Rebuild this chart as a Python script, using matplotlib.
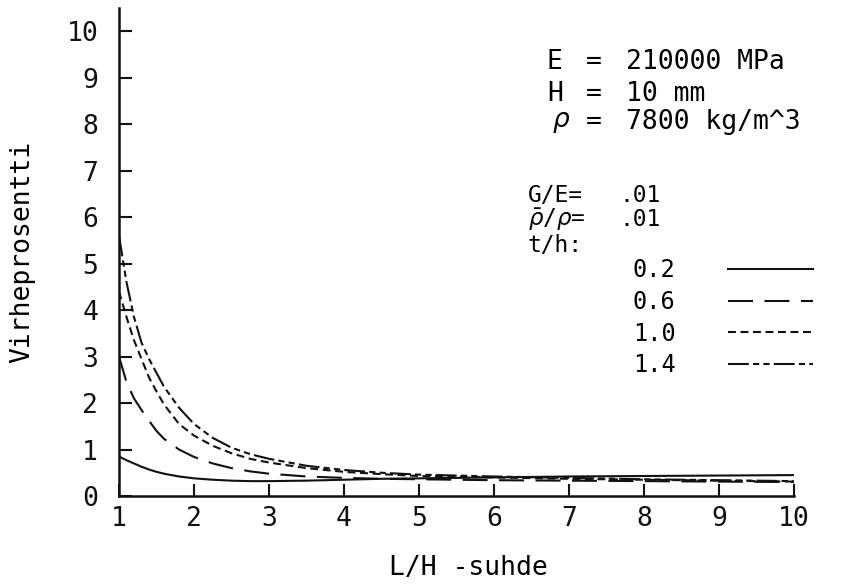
import matplotlib
matplotlib.use('Agg')
import matplotlib.pyplot as plt

# L/H ratio sample points
ratio = [1.0, 1.1, 1.2, 1.3, 1.4, 1.5, 1.6, 1.8, 2.0, 2.25, 2.5, 2.75, 3.0,
         3.5, 4.0, 4.5, 5.0, 6.0, 7.0, 8.0, 9.0, 10.0]

# error percentage for each t/h value
err_02 = [0.85, 0.77, 0.70, 0.63, 0.57, 0.52, 0.48, 0.42, 0.38, 0.35, 0.33, 0.32, 0.32,
          0.33, 0.35, 0.37, 0.38, 0.40, 0.42, 0.43, 0.44, 0.45]
err_06 = [3.00, 2.45, 2.10, 1.85, 1.62, 1.40, 1.23, 1.00, 0.84, 0.70, 0.60, 0.53, 0.48,
          0.42, 0.39, 0.37, 0.36, 0.34, 0.33, 0.32, 0.31, 0.30]
err_10 = [4.40, 3.85, 3.35, 2.95, 2.55, 2.25, 1.97, 1.55, 1.30, 1.08, 0.92, 0.80, 0.72,
          0.60, 0.52, 0.47, 0.43, 0.40, 0.37, 0.35, 0.33, 0.31]
err_14 = [5.60, 4.60, 3.85, 3.30, 2.95, 2.65, 2.35, 1.90, 1.55, 1.25, 1.04, 0.90, 0.80,
          0.65, 0.56, 0.50, 0.46, 0.42, 0.39, 0.36, 0.34, 0.32]

th_labels = ['0.2', '0.6', '1.0', '1.4']
x_ticks = [1, 2, 3, 4, 5, 6, 7, 8, 9, 10]
y_ticks = [0, 1, 2, 3, 4, 5, 6, 7, 8, 9, 10]

W, H = 845, 588


def fx(px):
    return px / W


def fy(py):
    return 1 - py / H


plt.rcParams.update({'font.family': 'DejaVu Sans Mono', 'font.size': 19,
                     'mathtext.fontset': 'dejavusans'})
ink = '#111111'

fig = plt.figure(figsize=(W / 100, H / 100), dpi=100)
ax = fig.add_axes([fx(119), fy(496), (794 - 119) / W, (496 - 8) / H])

lw = 1.5
styles = ['-', (0, (12, 5.5)), (0, (3.8, 2.2)), (0, (10, 2, 3, 2, 3, 2))]
lines = []
for vals, ls in zip([err_02, err_06, err_10, err_14], styles):
    ln, = ax.plot(ratio, vals, color=ink, linewidth=lw, linestyle=ls)
    lines.append(ln)

ax.set_xlim(1, 10)
ax.set_ylim(0, 10.5)
ax.set_xticks(x_ticks)
ax.set_yticks(y_ticks)
ax.spines['top'].set_visible(False)
ax.spines['right'].set_visible(False)
for s in ['left', 'bottom']:
    ax.spines[s].set_linewidth(1.8)
    ax.spines[s].set_color(ink)
ax.tick_params(direction='in', length=9, width=1.5, colors=ink, labelsize=19)
ax.tick_params(axis='y', pad=15)
ax.tick_params(axis='x', pad=7)

ax.set_ylabel('Virheprosentti', va='center', fontsize=19)
ax.yaxis.set_label_coords((22 - 119) / 675, 0.5)
ax.set_xlabel('L/H -suhde', va='center', fontsize=19)
ax.xaxis.set_label_coords((468 - 119) / 675, (496 - 568) / 488)

# material parameters
fs_top = 19
fig.text(fx(547), fy(62), 'E', va='center', fontsize=fs_top)
fig.text(fx(547), fy(94), 'H', va='center', fontsize=fs_top)
fig.text(fx(552), fy(122), r'$\rho$', va='center', fontsize=fs_top)
for py in [62, 94, 122]:
    fig.text(fx(586), fy(py), '=', va='center', fontsize=fs_top)
fig.text(fx(626), fy(62), '210000 MPa', va='center', fontsize=fs_top)
fig.text(fx(626), fy(94), '10 mm', va='center', fontsize=fs_top)
fig.text(fx(626), fy(122), '7800 kg/m^3', va='center', fontsize=fs_top)

fs_mid = 16.5
fig.text(fx(528), fy(195), 'G/E=', va='center', fontsize=fs_mid)
fig.text(fx(528), fy(220), r'$\bar{\rho}$/$\rho$=', va='center', fontsize=fs_mid)
fig.text(fx(620), fy(195), '.01', va='center', fontsize=fs_mid)
fig.text(fx(620), fy(220), '.01', va='center', fontsize=fs_mid)
fig.text(fx(528), fy(246), 't/h:', va='center', fontsize=fs_mid)

fig.legend(lines, th_labels, loc='upper left', bbox_to_anchor=(fx(633), fy(258)),
           bbox_transform=fig.transFigure, frameon=False, markerfirst=False,
           handlelength=3.6, handletextpad=2.2, labelspacing=0.33,
           borderpad=0, borderaxespad=0, fontsize=17)

fig.savefig('out.png', dpi=100, facecolor='white')
